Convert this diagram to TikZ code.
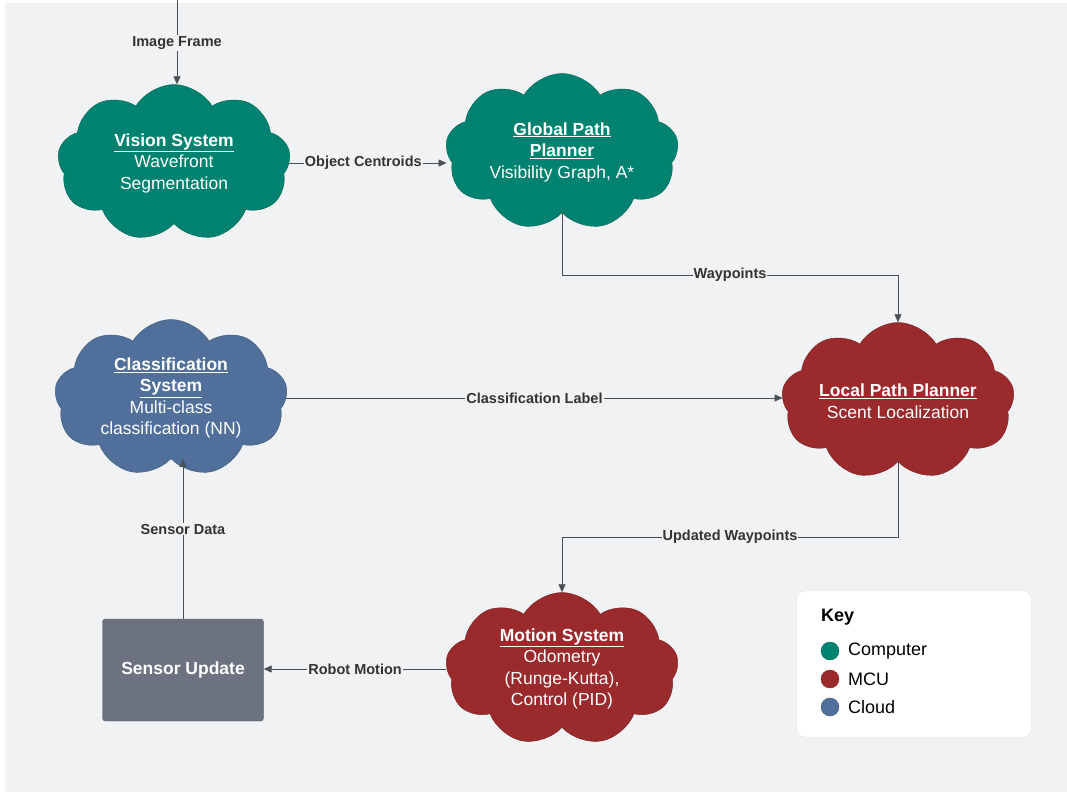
\documentclass[tikz,border=0pt]{standalone}
\usepackage{fontspec}
\setmainfont{Liberation Sans}
\usetikzlibrary{arrows.meta, shapes.symbols, calc}
\definecolor{bgGray}{HTML}{F1F2F4}
\definecolor{compGreen}{HTML}{008270}
\definecolor{mcuRed}{HTML}{9B2A2D}
\definecolor{cloudBlue}{HTML}{50709B}
\definecolor{boxGray}{HTML}{6C7280}
\definecolor{lineGray}{HTML}{4B5058}
\newcommand{\cloudfont}{\fontsize{17.5}{21.5}\selectfont}
\newcommand{\lblfont}{\fontsize{14.5}{16}\selectfont\bfseries}
\newcommand{\ttl}[1]{\underline{\textbf{#1}}}
\tikzset{
	puff/.style={cloud, cloud puffs=9, cloud puff arc=118, aspect=1.5,
		minimum width=233pt, minimum height=157pt, inner sep=-30pt,
		draw=#1!75!black, fill=#1, text=white, align=center, font=\cloudfont},
	flow/.style={draw=lineGray, line width=0.8pt, -{Triangle[length=8pt,width=7pt]}},
	lbl/.style={fill=bgGray, inner sep=1pt, text=black!80, font=\lblfont},
	keydot/.style={circle, minimum size=18pt, inner sep=0pt, fill=#1, draw=#1!85!black},
	keytxt/.style={anchor=west, font=\fontsize{18}{20}\selectfont, inner sep=0pt}
}

\begin{document}
\begin{tikzpicture}[x=1pt, y=-1pt]
	\useasboundingbox (0,0) rectangle (1067,792);
	\fill[white] (0,0) rectangle (1067,792);
	\fill[bgGray] (5,3) rectangle (1067,792);

	% clouds
	\node[puff=compGreen] (vision) at (174,163) {\ttl{Vision System}\\Wavefront\\Segmentation};
	\node[puff=compGreen] (global) at (562,152) {\ttl{Global Path}\\\ttl{Planner}\\Visibility Graph, A*};
	\node[puff=mcuRed] (local) at (898,401) {\ttl{Local Path Planner}\\Scent Localization};
	\node[puff=cloudBlue] (class) at (171,398) {\ttl{Classification}\\\ttl{System}\\Multi-class\\classification (NN)};
	\node[puff=mcuRed, minimum height=153pt] (motion) at (562,669) {\ttl{Motion System}\\Odometry\\(Runge-Kutta),\\Control (PID)};

	\node[fill=boxGray, draw=boxGray!80!black, rounded corners=3pt, minimum width=161pt, minimum height=102pt,
		text=white, font=\fontsize{17.5}{20}\selectfont\bfseries] (sensor) at (183,670) {Sensor Update};

	% connectors
	\coordinate (feed) at (177,0);
	\coordinate (wpbend) at (0,275);
	\coordinate (uwbend) at (0,537);
	\draw[flow] (feed) -- node[lbl, pos=0.51] {Image Frame} (feed |- vision.north);
	\draw[flow] (vision.east) -- node[lbl, pos=0.47] {Object Centroids} (vision.east -| global.west);
	\draw[flow] (global.south) -- (global.south |- wpbend) -- node[lbl] {Waypoints} (local.north |- wpbend) -- (local.north);
	\draw[flow] (class.east) -- node[lbl] {Classification Label} (class.east -| local.west);
	\draw[flow] (local.south) -- (local.south |- uwbend) -- node[lbl, pos=0.5] {Updated Waypoints} (motion.north |- uwbend) -- (motion.north);
	\draw[flow] (motion.west) -- node[lbl] {Robot Motion} (motion.west -| sensor.east);
	\draw[flow] (sensor.north) -- node[lbl, pos=0.56] {Sensor Data} (sensor.north |- class.south);

	% key
	\node[fill=white, draw=black!12, rounded corners=8pt, minimum width=235pt, minimum height=146pt] (key) at (914,664) {};
	\node[anchor=west, inner sep=0pt, font=\fontsize{18}{20}\selectfont\bfseries] (keyhead) at (821,617) {Key};
	\node[keydot=compGreen] (dotA) at (830,651) {};
	\node[keydot=mcuRed] (dotB) at (830,679) {};
	\node[keydot=cloudBlue] (dotC) at (830,707) {};
	\node[keytxt] (txtA) at (848,651) {Computer};
	\node[keytxt] (txtB) at (848,679) {MCU};
	\node[keytxt] (txtC) at (848,707) {Cloud};
\end{tikzpicture}
\end{document}
